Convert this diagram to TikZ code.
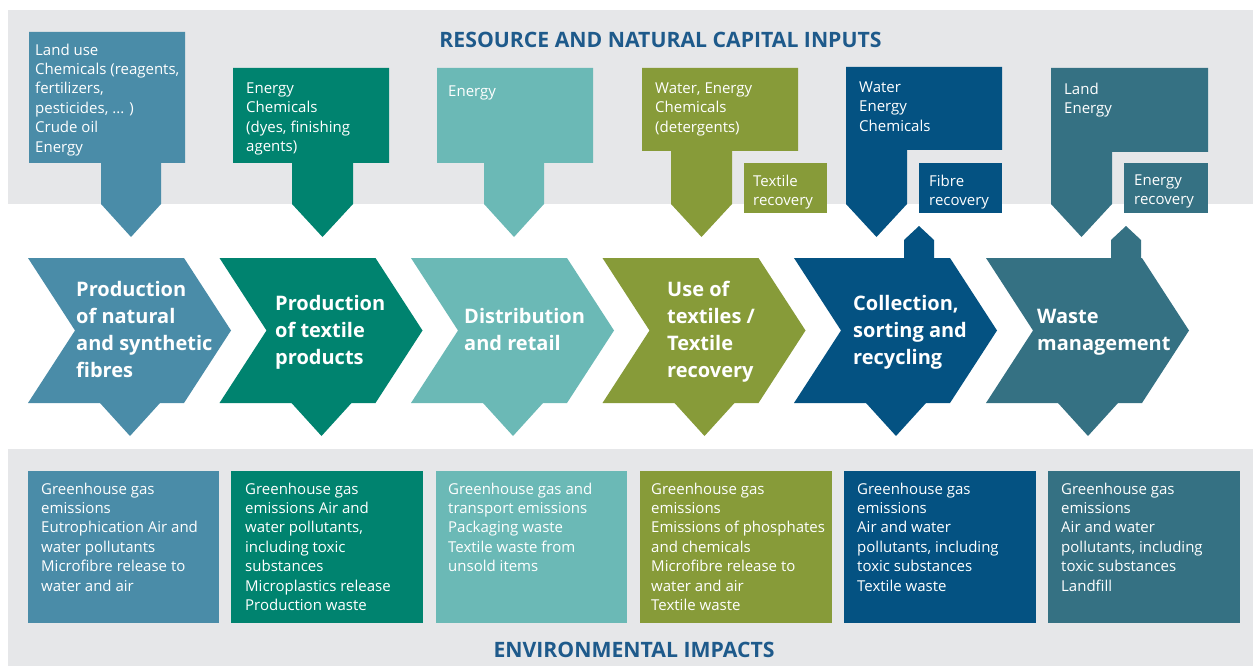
\documentclass[tikz,border=0pt]{standalone}
\usepackage{fontspec}
\setmainfont{Open Sans}
\definecolor{fibre}{HTML}{4A8CA8}
\definecolor{product}{HTML}{00836F}
\definecolor{retail}{HTML}{6BB9B6}
\definecolor{use}{HTML}{879B39}
\definecolor{collect}{HTML}{045282}
\definecolor{waste}{HTML}{357183}
\definecolor{band}{HTML}{E6E7E9}
\definecolor{heading}{HTML}{1E5A8B}
\begin{document}
\begin{tikzpicture}[x=1pt, y=-1pt,
        txt/.style = {anchor=north west, inner sep=0pt, align=left, text=white,
            font=\fontsize{15}{19.4}\selectfont, execute at begin node=\strut},
        stage/.style = {anchor=west, inner sep=0pt, align=left, text=white,
            font=\fontsize{20}{27}\selectfont\bfseries,
            execute at begin node=\strut, execute at end node=\strut},
        head/.style = {inner sep=0pt, text=heading, font=\fontsize{21.2}{24}\selectfont\bfseries}]
    
    \fill[white] (0,0) rectangle (1253,666);
    \useasboundingbox (0,0) rectangle (1253,666);
    \fill[band] (8,10) rectangle (1253,204);
    \fill[band] (8,449) rectangle (1253,666);
    
    % inputs
    \fill[fibre] (29,32) -- (185,32) -- (185,163) -- (161,163) -- (161,204) -- (131,237) -- (101,204) -- (101,163) -- (29,163) -- cycle;
    \fill[product] (233,68) -- (389,68) -- (389,163) -- (353,163) -- (353,204) -- (322.5,237) -- (292,204) -- (292,163) -- (233,163) -- cycle;
    \fill[retail] (437,68) -- (593,68) -- (593,163) -- (544,163) -- (544,204) -- (514,237) -- (484,204) -- (484,163) -- (437,163) -- cycle;
    \fill[use] (642,68) -- (798,68) -- (798,151) -- (732,151) -- (732,204) -- (701.5,237) -- (671,204) -- (671,151) -- (642,151) -- cycle;
    \fill[use] (744,163) rectangle (827,213);
    \fill[collect] (846,67) -- (1002,67) -- (1002,150) -- (907,150) -- (907,204) -- (876.5,237) -- (846,204) -- cycle;
    \fill[collect] (919,163) rectangle (1002,213);
    \fill[waste] (1051,68) -- (1208,68) -- (1208,152) -- (1112,152) -- (1112,204) -- (1081.5,237) -- (1051,204) -- cycle;
    \fill[waste] (1124,163) rectangle (1208,213);
    
    % stages
    \fill[fibre] (28,258) -- ++(156,0) -- ++(47,72.5) -- ++(-47,72.5) -- ++(-24,0) -- ++(-30,33) -- ++(-30,-33) -- ++(-72,0) -- ++(47,-72.5) -- cycle;
    \fill[product] (219.5,258) -- ++(156,0) -- ++(47,72.5) -- ++(-47,72.5) -- ++(-24,0) -- ++(-30,33) -- ++(-30,-33) -- ++(-72,0) -- ++(47,-72.5) -- cycle;
    \fill[retail] (411,258) -- ++(156,0) -- ++(47,72.5) -- ++(-47,72.5) -- ++(-24,0) -- ++(-30,33) -- ++(-30,-33) -- ++(-72,0) -- ++(47,-72.5) -- cycle;
    \fill[use] (602.5,258) -- ++(156,0) -- ++(47,72.5) -- ++(-47,72.5) -- ++(-24,0) -- ++(-30,33) -- ++(-30,-33) -- ++(-72,0) -- ++(47,-72.5) -- cycle;
    \fill[collect] (794,258) -- ++(156,0) -- ++(47,72.5) -- ++(-47,72.5) -- ++(-24,0) -- ++(-30,33) -- ++(-30,-33) -- ++(-72,0) -- ++(47,-72.5) -- cycle;
    \fill[waste] (986,258) -- ++(156,0) -- ++(47,72.5) -- ++(-47,72.5) -- ++(-24,0) -- ++(-30,33) -- ++(-30,-33) -- ++(-72,0) -- ++(47,-72.5) -- cycle;
    \fill[collect] (904,259) -- (904,240) -- (919,226) -- (934,240) -- (934,259) -- cycle;
    \fill[waste] (1111,259) -- (1111,240) -- (1126,226) -- (1141,240) -- (1141,259) -- cycle;
    
    % impacts
    \fill[fibre] (28,471) rectangle (219,623);
    \fill[product] (231,471) rectangle (423,623);
    \fill[retail] (436,471) rectangle (627,623);
    \fill[use] (640,471) rectangle (832,623);
    \fill[collect] (844,471) rectangle (1036,623);
    \fill[waste] (1048,471) rectangle (1240,623);
    
    \node[head] (ttl) at (660.5,39.7) {RESOURCE AND NATURAL CAPITAL INPUTS};
    \node[head] (imp) at (634,649.7) {ENVIRONMENTAL IMPACTS};
    
    \node[txt] (in1) at (35,43.5) {Land use\\Chemicals (reagents,\\fertilizers,\\pesticides, ... )\\Crude oil\\Energy};
    \node[txt] (in2) at (246,82.5) {Energy\\Chemicals\\(dyes, finishing\\agents)};
    \node[txt] (in3) at (448,82.5) {Energy};
    \node[txt] (in4) at (655,82.5) {Water, Energy\\Chemicals\\(detergents)};
    \node[txt] (in5) at (859,81.5) {Water\\Energy\\Chemicals};
    \node[txt] (in6) at (1064,82.5) {Land\\Energy};
    \node[txt] (rec4) at (753,174.5) {Textile\\recovery};
    \node[txt] (rec5) at (929,174.5) {Fibre\\recovery};
    \node[txt] (rec6) at (1134,174.5) {Energy\\recovery};
    
    \node[stage] (st1) at (76,333.5) {Production\\of natural\\and synthetic\\fibres};
    \node[stage] (st2) at (275,333.5) {Production\\of textile\\products};
    \node[stage] (st3) at (464,333.5) {Distribution\\and retail};
    \node[stage] (st4) at (667,333.5) {Use of\\textiles /\\Textile\\recovery};
    \node[stage] (st5) at (853,333.5) {Collection,\\sorting and\\recycling};
    \node[stage] (st6) at (1037,333.5) {Waste\\management};
    
    \node[txt] (out1) at (41,482.5) {Greenhouse gas\\emissions\\Eutrophication Air and\\water pollutants\\Microfibre release to\\water and air};
    \node[txt] (out2) at (245,482.5) {Greenhouse gas\\emissions Air and\\water pollutants,\\including toxic\\substances\\Microplastics release\\Production waste};
    \node[txt] (out3) at (448,482.5) {Greenhouse gas and\\transport emissions\\Packaging waste\\Textile waste from\\unsold items};
    \node[txt] (out4) at (651,482.5) {Greenhouse gas\\emissions\\Emissions of phosphates\\and chemicals\\Microfibre release to\\water and air\\Textile waste};
    \node[txt] (out5) at (857,482.5) {Greenhouse gas\\emissions\\Air and water\\pollutants, including\\toxic substances\\Textile waste};
    \node[txt] (out6) at (1061,482.5) {Greenhouse gas\\emissions\\Air and water\\pollutants, including\\toxic substances\\Landfill};
\end{tikzpicture}
\end{document}
